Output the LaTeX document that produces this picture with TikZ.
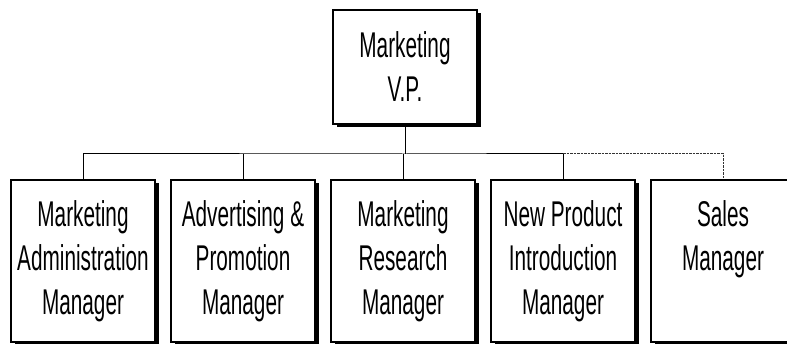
\documentclass[tikz,border=0pt]{standalone}
\usepackage{fontspec}
\setmainfont{Liberation Sans}[FakeStretch=0.58]
\usetikzlibrary{shadows}
\begin{document}
\begin{tikzpicture}[x=1pt,y=-1pt,
  box/.style={draw, line width=1.5pt, fill=white, minimum width=144pt, minimum height=162pt,
    inner sep=0pt, align=center, font=\fontsize{35.8}{44}\selectfont,
    drop shadow={shadow xshift=3.5pt, shadow yshift=-3.5pt, fill=black, opacity=1}},
  topbox/.style={box, minimum height=114pt},
  link/.style={line width=1pt},
  dotlink/.style={line width=1pt, dash pattern=on 2.5pt off 1pt, black!80}]
\useasboundingbox (0,0) rectangle (787,344);
\node[topbox] (vp) at (405,67) {Marketing\\V.P.};
\node[box] (b1) at (83,261) {Marketing\\Administration\\Manager};
\node[box] (b2) at (243,261) {Advertising \&\\Promotion\\Manager};
\node[box] (b3) at (403,261) {Marketing\\Research\\Manager};
\node[box] (b4) at (563,261) {New Product\\Introduction\\Manager};
\node[box] (b5) at (723,261) {Sales\\Manager\\\vphantom{g}};
\coordinate (j) at (405,154);
\draw[link] (vp.south) -- (j);
\draw[link] (b1.north) |- (j) -| (b4.north);
\draw[link] (b2.north) -- (b2.north |- j);
\draw[link] (b3.north) -- (b3.north |- j);
\draw[dotlink] (b4.north |- j) -| (b5.north);
\end{tikzpicture}
\end{document}
